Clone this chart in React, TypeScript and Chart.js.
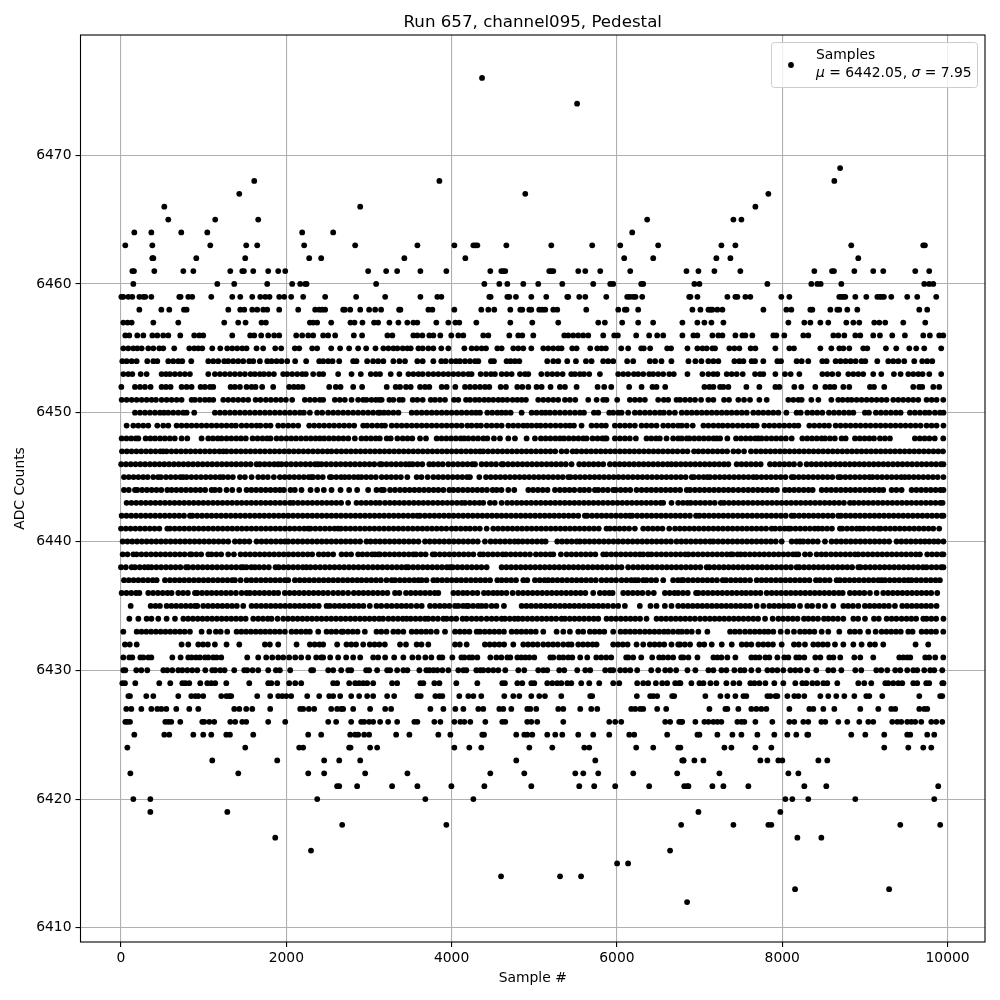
import React, { useEffect, useRef } from "react";
import { Chart, registerables } from "chart.js";

Chart.register(...registerables);

const titleText = "Run 657, channel095, Pedestal";
const xLabel = "Sample #";
const yLabel = "ADC Counts";
const xTickValues = [0, 2000, 4000, 6000, 8000, 10000];
const yTickValues = [6410, 6420, 6430, 6440, 6450, 6460, 6470];

const L6476 = [4368];
const L6474 = [5518];
const L6469 = [8700];
const L6468 = [1612, 3852, 8630];
const L6467 = [1431, 4891, 7832];
const L6466 = [524, 2894, 7675];
const L6465 = [572, 1140, 1660, 6366, 7409, 7506];
const L6464 = [161, 367, 729, 1044, 2192, 2567, 6185];
const L6463 = [52, 379, 1080, 1515, 1648, 2216, 2833, 3586, 4033, 4263, 4287, 4311, 4662, 5206, 5701, 6040, 6499, 7264, 7433, 8835, 9706, 9726];
const L6462 = [379, 391, 911, 1503, 2277, 2422, 3428, 4166, 6088, 6439, 7203, 7373, 8920];
const L6461 = [137, 157, 403, 754, 875, 1322, 1467, 1487, 1600, 1781, 1902, 1987, 2990, 3208, 3341, 3622, 3936, 4468, 4601, 4625, 4649, 5181, 5206, 5230, 5532, 5617, 5798, 6161, 6841, 6986, 7179, 7493, 8388, 8602, 8626, 8872, 9101, 9222, 9609, 9778];
const L6460 = [149, 1165, 1370, 1769, 2071, 2168, 2229, 2245, 3087, 4396, 4577, 4674, 4867, 5048, 5339, 5713, 5919, 5955, 6294, 6318, 6937, 6998, 7820, 8352, 8424, 8465, 8715, 9718, 9778, 9827];
const L6459 = [4, 28, 89, 137, 222, 270, 294, 367, 705, 721, 814, 862, 1092, 1346, 1443, 1588, 1685, 1745, 1797, 1914, 1975, 2059, 2204, 2470, 2845, 3196, 3622, 3827, 3876, 4456, 4472, 4674, 4698, 4778, 4964, 5145, 5399, 5411, 5544, 5617, 5871, 6124, 6157, 6197, 6225, 6306, 6874, 6889, 6974, 7336, 7433, 7457, 7554, 7614, 7989, 8086, 8690, 8715, 8739, 8763, 8884, 9017, 9150, 9182, 9206, 9230, 9319, 9512, 9633, 9863];
const L6458 = [222, 488, 584, 762, 794, 1298, 1443, 1491, 1588, 1648, 1721, 1769, 1914, 2144, 2349, 2398, 2434, 2470, 2688, 2708, 2773, 2894, 3002, 3075, 3147, 3365, 3380, 3719, 3767, 4033, 4359, 4444, 4516, 4710, 4831, 4855, 4940, 4964, 5060, 5097, 5133, 5230, 5278, 5629, 6016, 6096, 6116, 6257, 6913, 7010, 7107, 7131, 7155, 7215, 7276, 7772, 8050, 8110, 8340, 8364, 8582, 8666, 8690, 8787, 8908, 9658, 9754];
const L6457 = [28, 80, 129, 391, 693, 1249, 1418, 1507, 1700, 1753, 2285, 2325, 2373, 2543, 2776, 2825, 2921, 3062, 3111, 3247, 3356, 3464, 3537, 3585, 3815, 3960, 4045, 4093, 4299, 4710, 4976, 5290, 5774, 5854, 6064, 6257, 6438, 6792, 6973, 7058, 7143, 7288, 8074, 8267, 8340, 8461, 8557, 8775, 8860, 8932, 9113, 9174, 9246, 9464, 9730];
const L6456 = [52, 100, 197, 270, 379, 439, 511, 572, 717, 886, 947, 995, 1346, 1563, 1612, 1696, 1781, 1853, 1914, 2120, 2192, 2265, 2325, 2446, 2506, 2591, 2817, 2917, 3223, 3283, 3537, 3585, 3646, 3730, 3779, 3863, 3996, 4081, 4141, 4383, 4444, 4698, 4806, 4855, 4988, 5363, 5411, 5471, 5532, 5592, 5653, 5834, 5967, 6011, 6233, 6390, 6487, 6560, 6792, 6925, 6973, 7155, 7227, 7276, 7433, 7518, 7554, 7638, 7892, 7929, 8025, 8255, 8315, 8618, 8678, 8751, 8884, 8944, 9101, 9182, 9331, 9484, 9706, 9786, 9899, 9948];
const L6455 = [28, 88, 149, 197, 250, 330, 391, 463, 511, 644, 826, 886, 935, 983, 1104, 1201, 1285, 1346, 1406, 1467, 1519, 1640, 1720, 1866, 1938, 2103, 2156, 2313, 2373, 2543, 2651, 2760, 2869, 2966, 3079, 3174, 3235, 3295, 3344, 3408, 3464, 3505, 3598, 3650, 3718, 3779, 3875, 3960, 4154, 4242, 4303, 4363, 4416, 4553, 4605, 4746, 4806, 4867, 4964, 5109, 5169, 5230, 5290, 5330, 5459, 5512, 5677, 5762, 5814, 5866, 6052, 6136, 6293, 6325, 6402, 6608, 6655, 6853, 6973, 7034, 7086, 7155, 7187, 7360, 7421, 7481, 7618, 7675, 7917, 8086, 8142, 8461, 8594, 8690, 8739, 8811, 8980, 9029, 9254, 9379, 9537, 9621, 9718, 9923];
const L6454 = [16, 68, 129, 189, 318, 391, 439, 572, 632, 693, 741, 850, 1056, 1116, 1176, 1249, 1297, 1358, 1418, 1479, 1551, 1600, 1680, 1769, 1821, 1882, 1942, 2011, 2107, 2240, 2398, 2446, 2506, 2559, 2640, 2809, 2849, 2978, 3050, 3111, 3174, 3295, 3368, 3436, 3585, 3650, 3779, 3875, 3928, 3996, 4053, 4101, 4162, 4222, 4283, 4323, 4476, 4512, 4665, 4714, 4766, 4819, 5157, 5230, 5290, 5399, 5504, 5625, 5693, 5834, 5894, 5955, 6124, 6197, 6398, 6462, 6539, 6659, 6865, 6949, 7022, 7106, 7167, 7227, 7421, 7481, 7530, 7630, 7671, 7771, 7941, 7985, 8174, 8235, 8315, 8485, 8537, 8646, 8706, 8767, 8827, 8888, 8960, 9005, 9150, 9283, 9343, 9404, 9476, 9597, 9694, 9754, 9815];
const L6453 = [28, 88, 137, 238, 310, 491, 544, 592, 652, 713, 773, 834, 1056, 1136, 1197, 1257, 1318, 1378, 1439, 1499, 1567, 1620, 1680, 1729, 1789, 1850, 1962, 2011, 2071, 2132, 2192, 2236, 2325, 2398, 2446, 2627, 2789, 2901, 3022, 3083, 3134, 3263, 3368, 3477, 3537, 3598, 3650, 3718, 3779, 3839, 3900, 3960, 4021, 4081, 4141, 4202, 4242, 4351, 4416, 4476, 4524, 4605, 4665, 4726, 4827, 4887, 4928, 5085, 5157, 5218, 5278, 5343, 5447, 5492, 5552, 5601, 5665, 5794, 6015, 6076, 6136, 6205, 6257, 6318, 6390, 6438, 6499, 6560, 6633, 6688, 6853, 7034, 7106, 7167, 7215, 7328, 7388, 7449, 7522, 7671, 7731, 7771, 7917, 8033, 8102, 8207, 8485, 8545, 8605, 8678, 8799, 8860, 8920, 8980, 9101, 9198, 9351, 9432, 9525, 9585, 9646, 9698, 9779, 9923];
const L6452 = [4, 169, 230, 290, 358, 491, 544, 600, 733, 794, 854, 963, 1015, 1076, 1116, 1326, 1378, 1439, 1519, 1580, 1628, 1708, 1841, 2035, 2091, 2144, 2196, 2519, 2599, 2656, 2809, 2917, 3215, 3323, 3376, 3448, 3505, 3618, 3678, 3730, 3880, 3940, 4045, 4162, 4222, 4283, 4343, 4403, 4456, 4593, 4657, 4794, 4855, 4928, 5028, 5089, 5197, 5310, 5371, 5512, 5766, 5846, 5931, 6148, 6298, 6430, 6479, 6584, 7058, 7119, 7167, 7248, 7288, 7348, 7566, 7723, 7917, 7965, 8146, 8231, 8400, 8521, 8577, 8630, 8739, 8811, 9061, 9110, 9234, 9585, 9657, 9694, 9827, 9899];
const L6451 = [8, 68, 129, 189, 250, 310, 370, 423, 491, 552, 612, 673, 733, 854, 894, 955, 1015, 1068, 1116, 1237, 1297, 1358, 1418, 1479, 1539, 1628, 1688, 1753, 1813, 1874, 1934, 1995, 2071, 2224, 2285, 2345, 2406, 2446, 2587, 2647, 2708, 2789, 2869, 2930, 2970, 3030, 3083, 3123, 3154, 3247, 3295, 3368, 3408, 3529, 3585, 3650, 3747, 3799, 3859, 3920, 4029, 4081, 4174, 4222, 4283, 4335, 4395, 4448, 4504, 4565, 4617, 4673, 4738, 4794, 4847, 4899, 5048, 5109, 5169, 5230, 5290, 5371, 5431, 5496, 5653, 5754, 5834, 5874, 6003, 6156, 6217, 6277, 6338, 6499, 6567, 6620, 6721, 6764, 6824, 6885, 6945, 7018, 7106, 7167, 7296, 7356, 7469, 7538, 7610, 7723, 7812, 8074, 8134, 8195, 8235, 8352, 8437, 8594, 8678, 8731, 8791, 8839, 8900, 8960, 9021, 9081, 9142, 9202, 9262, 9343, 9404, 9464, 9525, 9585, 9646, 9746, 9807, 9867, 9948];
const L6450 = [169, 230, 290, 350, 411, 471, 520, 572, 632, 693, 753, 794, 886, 1136, 1197, 1257, 1318, 1378, 1439, 1499, 1559, 1620, 1680, 1741, 1801, 1862, 1922, 1983, 2043, 2103, 2164, 2212, 2285, 2373, 2434, 2506, 2567, 2627, 2688, 2748, 2809, 2869, 2930, 2990, 3050, 3111, 3134, 3182, 3235, 3295, 3356, 3517, 3577, 3638, 3698, 3759, 3819, 3880, 3940, 4000, 4061, 4121, 4182, 4242, 4295, 4343, 4432, 4492, 4553, 4605, 4657, 4714, 4847, 4968, 5028, 5089, 5137, 5190, 5250, 5310, 5371, 5431, 5492, 5552, 5601, 5722, 5774, 5907, 5955, 6015, 6056, 6136, 6217, 6277, 6338, 6398, 6459, 6519, 6567, 6633, 6701, 6784, 6845, 6905, 6965, 7026, 7086, 7147, 7207, 7268, 7328, 7388, 7449, 7510, 7570, 7650, 7711, 7771, 7832, 7892, 7953, 8050, 8174, 8223, 8303, 8364, 8424, 8485, 8565, 8626, 8686, 8747, 8807, 8860, 9000, 9049, 9133, 9194, 9254, 9315, 9375, 9432, 9545, 9605, 9666, 9727, 9779, 9847, 9908, 9950];
const L6449 = [68, 149, 209, 270, 330, 439, 511, 572, 673, 733, 794, 854, 914, 975, 1035, 1096, 1156, 1217, 1277, 1338, 1390, 1459, 1519, 1580, 1640, 1688, 1753, 1809, 1902, 1962, 2023, 2083, 2144, 2277, 2337, 2398, 2458, 2519, 2579, 2640, 2700, 2760, 2821, 2930, 2978, 3038, 3099, 3154, 3194, 3275, 3336, 3396, 3456, 3517, 3577, 3638, 3698, 3759, 3819, 3880, 3940, 4000, 4061, 4121, 4190, 4242, 4303, 4355, 4424, 4484, 4545, 4605, 4686, 4746, 4806, 4867, 4915, 4968, 5028, 5077, 5137, 5197, 5258, 5318, 5379, 5431, 5480, 5572, 5693, 5754, 5814, 5866, 5975, 6036, 6096, 6156, 6217, 6298, 6358, 6418, 6479, 6560, 6620, 6680, 6741, 6784, 6845, 6917, 7046, 7106, 7167, 7227, 7280, 7340, 7400, 7461, 7522, 7582, 7642, 7691, 7783, 7844, 7904, 7965, 8025, 8086, 8146, 8195, 8328, 8388, 8449, 8509, 8565, 8646, 8706, 8767, 8827, 8888, 8948, 9009, 9069, 9130, 9190, 9250, 9311, 9371, 9432, 9492, 9553, 9613, 9674, 9746, 9807, 9867, 9950];
const L6448 = [8, 66, 124, 180, 210, 298, 356, 412, 472, 530, 590, 650, 733, 802, 975, 1056, 1112, 1170, 1217, 1277, 1335, 1395, 1452, 1510, 1592, 1652, 1712, 1768, 1809, 1882, 1940, 2002, 2060, 2118, 2178, 2238, 2296, 2354, 2406, 2458, 2516, 2574, 2632, 2690, 2750, 2829, 2909, 2966, 3024, 3082, 3131, 3215, 3263, 3344, 3408, 3466, 3524, 3618, 3690, 3819, 3878, 3936, 3994, 4052, 4110, 4150, 4202, 4262, 4320, 4383, 4432, 4512, 4585, 4686, 4766, 4907, 5008, 5080, 5137, 5195, 5255, 5310, 5359, 5418, 5476, 5534, 5592, 5633, 5705, 5765, 5823, 5854, 5874, 5975, 6036, 6096, 6156, 6229, 6358, 6416, 6474, 6519, 6600, 6680, 6741, 6784, 6845, 6877, 6936, 6994, 7052, 7110, 7168, 7207, 7248, 7336, 7441, 7500, 7558, 7616, 7674, 7711, 7751, 7810, 7870, 7928, 7986, 8044, 8114, 8243, 8302, 8360, 8418, 8476, 8517, 8577, 8636, 8718, 8767, 8880, 8938, 8996, 9054, 9110, 9182, 9242, 9303, 9605, 9664, 9722, 9780, 9845, 9948];
const L6447 = [12, 70, 128, 186, 244, 302, 360, 418, 476, 511, 552, 610, 668, 726, 784, 842, 900, 958, 1016, 1074, 1132, 1190, 1237, 1277, 1335, 1393, 1451, 1509, 1567, 1625, 1683, 1741, 1801, 1859, 1917, 1975, 2033, 2091, 2149, 2207, 2265, 2323, 2381, 2439, 2497, 2547, 2608, 2666, 2724, 2782, 2840, 2898, 2956, 3014, 3072, 3130, 3188, 3246, 3304, 3362, 3420, 3478, 3536, 3594, 3652, 3710, 3768, 3826, 3884, 3942, 4000, 4058, 4116, 4174, 4232, 4290, 4343, 4383, 4441, 4499, 4557, 4615, 4673, 4731, 4789, 4847, 4905, 4963, 5021, 5079, 5137, 5195, 5253, 5330, 5391, 5464, 5512, 5572, 5630, 5688, 5746, 5804, 5862, 5920, 5978, 6036, 6094, 6152, 6210, 6268, 6326, 6384, 6442, 6500, 6558, 6616, 6674, 6732, 6796, 6853, 6933, 6985, 7043, 7101, 7159, 7217, 7275, 7333, 7409, 7469, 7538, 7622, 7683, 7741, 7799, 7857, 7915, 7973, 8031, 8089, 8147, 8205, 8263, 8321, 8379, 8437, 8495, 8553, 8611, 8669, 8727, 8785, 8843, 8901, 8959, 9017, 9075, 9133, 9191, 9249, 9307, 9365, 9423, 9481, 9539, 9597, 9655, 9713, 9771, 9829, 9887, 9945];
const L6446 = [2, 60, 118, 176, 234, 292, 350, 408, 466, 524, 582, 640, 698, 756, 814, 872, 930, 988, 1046, 1104, 1162, 1220, 1278, 1336, 1394, 1452, 1510, 1568, 1640, 1680, 1738, 1796, 1854, 1902, 1942, 2000, 2058, 2116, 2174, 2232, 2290, 2348, 2385, 2426, 2484, 2542, 2600, 2658, 2716, 2774, 2832, 2890, 2948, 3006, 3064, 3131, 3154, 3212, 3270, 3328, 3386, 3444, 3489, 3529, 3587, 3645, 3730, 3779, 3837, 3892, 3960, 4018, 4076, 4134, 4192, 4250, 4283, 4363, 4421, 4479, 4537, 4605, 4625, 4683, 4741, 4799, 4857, 4915, 4973, 5031, 5089, 5149, 5207, 5265, 5323, 5381, 5451, 5544, 5602, 5660, 5718, 5776, 5834, 5915, 5975, 6033, 6091, 6149, 6207, 6265, 6323, 6381, 6439, 6497, 6555, 6613, 6660, 6715, 6773, 6831, 6889, 6947, 7005, 7063, 7121, 7179, 7237, 7295, 7348, 7449, 7507, 7565, 7623, 7681, 7739, 7852, 7910, 7968, 8026, 8084, 8142, 8215, 8295, 8353, 8411, 8469, 8527, 8585, 8643, 8701, 8759, 8817, 8875, 8933, 8991, 9049, 9107, 9165, 9223, 9281, 9339, 9397, 9455, 9513, 9571, 9629, 9687, 9745, 9803, 9861, 9919, 9950];
const L6445 = [36, 94, 152, 210, 268, 322, 390, 448, 483, 544, 602, 660, 718, 753, 794, 852, 910, 968, 1026, 1084, 1142, 1197, 1237, 1295, 1353, 1439, 1499, 1580, 1660, 1718, 1776, 1849, 1922, 1980, 2038, 2096, 2154, 2212, 2270, 2305, 2325, 2383, 2441, 2527, 2547, 2605, 2663, 2708, 2760, 2818, 2869, 2909, 2967, 3025, 3083, 3154, 3212, 3270, 3328, 3386, 3464, 3577, 3635, 3710, 3779, 3839, 3897, 3955, 4013, 4071, 4129, 4187, 4222, 4335, 4416, 4474, 4532, 4590, 4648, 4706, 4764, 4822, 4880, 4938, 4996, 5054, 5112, 5170, 5228, 5286, 5344, 5411, 5439, 5497, 5555, 5613, 5671, 5729, 5787, 5845, 5903, 5961, 6019, 6077, 6135, 6193, 6251, 6309, 6367, 6425, 6483, 6541, 6599, 6657, 6715, 6773, 6831, 6905, 6933, 6991, 7049, 7094, 7127, 7185, 7243, 7301, 7359, 7417, 7475, 7533, 7591, 7649, 7691, 7749, 7807, 7865, 7923, 7981, 8039, 8114, 8142, 8200, 8258, 8316, 8374, 8432, 8490, 8548, 8606, 8678, 8706, 8764, 8822, 8880, 8938, 8996, 9054, 9093, 9150, 9208, 9266, 9324, 9382, 9440, 9484, 9533, 9591, 9649, 9707, 9765, 9823, 9881, 9950];
const L6444 = [36, 94, 169, 197, 255, 313, 371, 429, 487, 560, 612, 670, 728, 786, 844, 902, 960, 1018, 1096, 1136, 1194, 1277, 1346, 1430, 1519, 1577, 1635, 1693, 1751, 1809, 1867, 1922, 1970, 2051, 2103, 2184, 2293, 2373, 2454, 2547, 2656, 2760, 2857, 2990, 3091, 3150, 3180, 3255, 3315, 3376, 3434, 3492, 3550, 3608, 3666, 3724, 3782, 3839, 3900, 3972, 4021, 4079, 4137, 4195, 4253, 4311, 4369, 4427, 4496, 4545, 4603, 4686, 4758, 4928, 4986, 5044, 5102, 5160, 5250, 5310, 5368, 5426, 5484, 5552, 5604, 5662, 5733, 5774, 5832, 5890, 5955, 5987, 6045, 6103, 6161, 6237, 6298, 6358, 6416, 6474, 6532, 6590, 6648, 6706, 6764, 6845, 6885, 6943, 7001, 7059, 7117, 7175, 7233, 7291, 7349, 7407, 7469, 7530, 7588, 7646, 7704, 7762, 7820, 7878, 7936, 8033, 8086, 8144, 8202, 8260, 8318, 8368, 8477, 8535, 8593, 8651, 8709, 8767, 8825, 8883, 8941, 8999, 9057, 9115, 9173, 9222, 9323, 9381, 9444, 9565, 9623, 9681, 9739, 9797, 9855, 9913, 9950];
const L6443 = [68, 126, 184, 242, 300, 358, 416, 474, 532, 590, 648, 706, 764, 822, 880, 938, 996, 1054, 1112, 1170, 1228, 1286, 1344, 1402, 1460, 1518, 1576, 1634, 1692, 1750, 1808, 1866, 1924, 1982, 2043, 2083, 2141, 2199, 2257, 2315, 2373, 2431, 2489, 2547, 2605, 2663, 2748, 2849, 2907, 2965, 3023, 3081, 3131, 3194, 3252, 3310, 3368, 3426, 3484, 3542, 3600, 3658, 3716, 3774, 3832, 3890, 3948, 4006, 4064, 4121, 4162, 4220, 4278, 4336, 4383, 4464, 4522, 4605, 4673, 4731, 4789, 4847, 4905, 4963, 5021, 5079, 5137, 5195, 5253, 5311, 5369, 5427, 5485, 5543, 5601, 5659, 5717, 5775, 5833, 5891, 5949, 6007, 6065, 6123, 6181, 6239, 6297, 6355, 6413, 6471, 6529, 6560, 6660, 6741, 6799, 6853, 6893, 6951, 7009, 7067, 7125, 7183, 7256, 7296, 7354, 7412, 7470, 7528, 7586, 7644, 7702, 7760, 7818, 7876, 7934, 7992, 8050, 8108, 8166, 8224, 8282, 8340, 8398, 8456, 8514, 8572, 8630, 8688, 8746, 8819, 8868, 8926, 8984, 9042, 9100, 9158, 9216, 9274, 9332, 9390, 9448, 9506, 9564, 9622, 9680, 9738, 9796, 9854, 9912, 9940];
const L6442 = [8, 66, 124, 182, 240, 298, 356, 414, 472, 530, 588, 646, 704, 762, 834, 864, 922, 980, 1038, 1096, 1154, 1212, 1270, 1328, 1386, 1444, 1502, 1560, 1618, 1676, 1734, 1792, 1850, 1908, 1966, 2024, 2082, 2140, 2198, 2256, 2314, 2372, 2430, 2488, 2546, 2604, 2662, 2720, 2778, 2836, 2894, 2952, 3010, 3068, 3126, 3184, 3242, 3300, 3358, 3416, 3474, 3532, 3585, 3618, 3676, 3734, 3792, 3850, 3908, 3966, 4024, 4082, 4140, 4198, 4256, 4314, 4372, 4430, 4488, 4546, 4604, 4662, 4720, 4778, 4836, 4894, 4952, 5010, 5068, 5126, 5184, 5242, 5300, 5358, 5416, 5474, 5532, 5612, 5641, 5699, 5757, 5815, 5873, 5931, 5989, 6047, 6105, 6156, 6185, 6245, 6303, 6361, 6419, 6477, 6535, 6593, 6651, 6709, 6767, 6825, 6883, 6957, 6998, 7056, 7114, 7172, 7230, 7288, 7346, 7404, 7462, 7520, 7578, 7636, 7694, 7752, 7810, 7868, 7926, 7984, 8042, 8114, 8146, 8204, 8262, 8320, 8378, 8436, 8494, 8552, 8610, 8678, 8710, 8768, 8826, 8884, 8942, 9000, 9058, 9116, 9174, 9232, 9290, 9348, 9406, 9464, 9522, 9580, 9638, 9696, 9754, 9812, 9870, 9928, 9950];
const L6441 = [0, 58, 116, 174, 232, 290, 348, 406, 464, 560, 592, 650, 708, 766, 824, 882, 940, 998, 1056, 1114, 1172, 1230, 1288, 1346, 1404, 1462, 1520, 1578, 1636, 1694, 1752, 1810, 1868, 1926, 1984, 2042, 2100, 2158, 2216, 2265, 2293, 2351, 2409, 2467, 2525, 2583, 2627, 2660, 2718, 2776, 2834, 2892, 2950, 3008, 3066, 3124, 3182, 3240, 3298, 3356, 3414, 3472, 3530, 3588, 3646, 3704, 3762, 3820, 3878, 3936, 4000, 4053, 4111, 4169, 4222, 4283, 4341, 4424, 4504, 4562, 4620, 4678, 4736, 4794, 4852, 4910, 4968, 5026, 5084, 5142, 5200, 5258, 5316, 5374, 5432, 5490, 5548, 5606, 5664, 5722, 5780, 5874, 5915, 5973, 6031, 6089, 6147, 6217, 6318, 6376, 6434, 6492, 6550, 6633, 6703, 6761, 6819, 6877, 6935, 6993, 7051, 7109, 7167, 7225, 7283, 7341, 7399, 7457, 7515, 7573, 7631, 7689, 7747, 7805, 7872, 7913, 7971, 8029, 8074, 8102, 8160, 8218, 8276, 8334, 8392, 8436, 8485, 8543, 8601, 8698, 8726, 8784, 8842, 8900, 8940, 8988, 9046, 9104, 9162, 9190, 9248, 9306, 9364, 9422, 9480, 9538, 9596, 9654, 9712, 9770, 9827, 9899];
const L6440 = [20, 78, 136, 194, 252, 310, 368, 426, 484, 542, 600, 658, 716, 774, 832, 890, 948, 1006, 1064, 1122, 1180, 1238, 1297, 1378, 1436, 1494, 1552, 1640, 1700, 1758, 1816, 1874, 1932, 1983, 2023, 2081, 2139, 2197, 2255, 2313, 2371, 2429, 2487, 2545, 2603, 2661, 2719, 2777, 2835, 2893, 2970, 3020, 3078, 3134, 3192, 3250, 3308, 3366, 3424, 3482, 3540, 3598, 3678, 3736, 3794, 3852, 3910, 3968, 4026, 4084, 4142, 4200, 4258, 4316, 4403, 4472, 4530, 4588, 4646, 4704, 4762, 4806, 4859, 4917, 4975, 5033, 5091, 5137, 5278, 5336, 5394, 5452, 5512, 5552, 5610, 5668, 5726, 5784, 5842, 5900, 5958, 6016, 6074, 6132, 6190, 6248, 6306, 6364, 6422, 6480, 6538, 6596, 6654, 6721, 6779, 6837, 6895, 6953, 7011, 7069, 7127, 7167, 7225, 7283, 7341, 7399, 7457, 7515, 7573, 7631, 7689, 7747, 7805, 7863, 7921, 7993, 8114, 8172, 8215, 8255, 8313, 8371, 8429, 8517, 8597, 8655, 8713, 8771, 8829, 8887, 8945, 9003, 9061, 9119, 9177, 9235, 9293, 9383, 9441, 9499, 9557, 9615, 9673, 9726, 9779, 9835, 9887, 9950];
const L6439 = [20, 78, 149, 189, 247, 305, 363, 421, 479, 537, 595, 653, 711, 769, 834, 854, 912, 970, 1056, 1096, 1154, 1212, 1297, 1366, 1447, 1505, 1563, 1621, 1679, 1737, 1795, 1853, 1911, 1969, 2027, 2085, 2143, 2201, 2259, 2313, 2393, 2451, 2506, 2567, 2668, 2726, 2784, 2869, 2921, 2979, 3037, 3071, 3111, 3134, 3192, 3250, 3308, 3366, 3424, 3482, 3537, 3569, 3627, 3685, 3771, 3799, 3857, 3915, 3973, 4031, 4089, 4147, 4205, 4263, 4343, 4383, 4441, 4499, 4557, 4617, 4657, 4715, 4773, 4831, 4889, 4948, 5020, 5078, 5136, 5194, 5230, 5322, 5391, 5449, 5507, 5565, 5623, 5681, 5739, 5834, 5874, 5932, 5990, 6048, 6106, 6164, 6222, 6277, 6318, 6376, 6418, 6479, 6537, 6595, 6653, 6711, 6769, 6827, 6865, 6923, 6981, 7039, 7097, 7155, 7213, 7271, 7329, 7377, 7401, 7459, 7497, 7550, 7608, 7666, 7724, 7782, 7840, 7898, 7956, 8014, 8072, 8130, 8166, 8195, 8275, 8336, 8416, 8474, 8529, 8590, 8648, 8706, 8764, 8822, 8880, 8920, 8978, 9036, 9094, 9152, 9210, 9268, 9326, 9384, 9442, 9500, 9558, 9616, 9666, 9754, 9812, 9870, 9928, 9950];
const L6438 = [0, 58, 129, 169, 227, 285, 330, 370, 428, 486, 544, 602, 660, 718, 786, 814, 872, 930, 988, 1046, 1104, 1162, 1220, 1278, 1336, 1394, 1452, 1479, 1519, 1577, 1620, 1672, 1730, 1788, 1870, 1910, 1968, 2026, 2084, 2142, 2200, 2244, 2293, 2351, 2409, 2467, 2525, 2583, 2641, 2699, 2757, 2815, 2873, 2931, 2989, 3047, 3105, 3163, 3221, 3279, 3337, 3395, 3448, 3477, 3535, 3593, 3651, 3709, 3767, 3825, 3883, 3941, 3980, 4013, 4071, 4129, 4187, 4245, 4303, 4361, 4424, 4605, 4663, 4721, 4779, 4837, 4895, 4953, 5011, 5069, 5127, 5185, 5243, 5301, 5359, 5417, 5475, 5533, 5591, 5649, 5707, 5765, 5823, 5881, 5939, 5997, 6055, 6136, 6197, 6255, 6313, 6371, 6429, 6487, 6545, 6603, 6661, 6719, 6777, 6835, 6893, 6951, 7009, 7086, 7119, 7177, 7235, 7293, 7351, 7409, 7467, 7525, 7583, 7641, 7699, 7757, 7815, 7873, 7931, 7989, 8047, 8105, 8174, 8207, 8265, 8323, 8381, 8439, 8497, 8555, 8613, 8671, 8729, 8787, 8845, 8920, 8948, 9006, 9064, 9122, 9180, 9238, 9296, 9354, 9412, 9470, 9528, 9586, 9644, 9702, 9746, 9807, 9865, 9923, 9950];
const L6437 = [36, 94, 152, 210, 268, 326, 384, 431, 532, 592, 650, 708, 766, 824, 882, 940, 998, 1056, 1114, 1172, 1230, 1288, 1346, 1378, 1447, 1519, 1577, 1635, 1693, 1751, 1809, 1867, 1925, 1983, 2023, 2104, 2162, 2220, 2278, 2336, 2394, 2452, 2510, 2568, 2626, 2684, 2742, 2800, 2858, 2910, 2970, 3028, 3086, 3144, 3212, 3275, 3315, 3373, 3431, 3489, 3547, 3598, 3638, 3696, 3779, 3827, 3885, 3943, 4001, 4059, 4117, 4175, 4233, 4291, 4349, 4407, 4465, 4553, 4605, 4663, 4721, 4779, 4867, 4915, 5008, 5066, 5124, 5169, 5222, 5280, 5338, 5396, 5454, 5512, 5570, 5628, 5686, 5744, 5814, 5874, 5932, 5990, 6056, 6116, 6174, 6217, 6257, 6318, 6358, 6416, 6474, 6560, 6680, 6738, 6784, 6804, 6862, 6920, 6978, 7036, 7094, 7152, 7210, 7280, 7320, 7378, 7436, 7494, 7550, 7610, 7691, 7749, 7807, 7865, 7923, 7981, 8039, 8097, 8155, 8213, 8271, 8329, 8408, 8457, 8515, 8573, 8658, 8698, 8756, 8814, 8872, 8930, 8988, 9046, 9104, 9162, 9202, 9242, 9300, 9358, 9416, 9474, 9525, 9565, 9623, 9681, 9739, 9797, 9855, 9907];
const L6436 = [8, 66, 124, 182, 222, 330, 388, 446, 504, 562, 612, 693, 751, 809, 895, 923, 981, 1039, 1097, 1155, 1213, 1271, 1329, 1390, 1459, 1519, 1560, 1618, 1676, 1734, 1792, 1850, 1902, 1982, 2040, 2098, 2156, 2214, 2272, 2330, 2388, 2446, 2504, 2567, 2627, 2685, 2748, 2817, 2875, 2933, 2991, 3049, 3107, 3165, 3223, 3315, 3368, 3448, 3506, 3564, 3622, 3680, 3738, 3796, 3839, 4021, 4079, 4137, 4190, 4254, 4312, 4391, 4444, 4502, 4553, 4605, 4663, 4738, 4806, 4864, 4922, 4980, 5038, 5096, 5154, 5212, 5270, 5328, 5386, 5444, 5502, 5560, 5618, 5713, 5794, 5852, 5907, 5947, 6076, 6134, 6192, 6250, 6308, 6378, 6446, 6580, 6638, 6696, 6741, 6799, 6857, 6957, 6985, 7043, 7101, 7159, 7217, 7275, 7333, 7391, 7449, 7509, 7562, 7620, 7678, 7736, 7812, 7872, 7930, 7988, 8046, 8104, 8162, 8220, 8278, 8336, 8394, 8452, 8510, 8568, 8626, 8684, 8731, 8819, 8877, 8935, 8993, 9061, 9142, 9222, 9280, 9338, 9396, 9454, 9512, 9570, 9628, 9686, 9744, 9802, 9875];
const L6435 = [117, 359, 417, 471, 552, 610, 668, 726, 784, 842, 895, 923, 995, 1053, 1111, 1169, 1227, 1285, 1343, 1401, 1479, 1580, 1638, 1696, 1754, 1812, 1870, 1928, 1986, 2044, 2102, 2160, 2218, 2276, 2334, 2392, 2487, 2527, 2585, 2643, 2701, 2759, 2817, 2875, 2933, 3010, 3091, 3149, 3215, 3275, 3336, 3394, 3452, 3510, 3577, 3638, 3739, 3799, 3857, 3915, 3973, 4041, 4081, 4139, 4182, 4202, 4260, 4318, 4363, 4416, 4484, 4542, 4633, 4847, 4905, 4963, 5021, 5079, 5137, 5195, 5253, 5311, 5369, 5427, 5485, 5543, 5601, 5659, 5717, 5775, 5833, 5891, 5955, 6015, 6096, 6277, 6406, 6479, 6580, 6660, 6741, 6801, 6859, 6917, 6975, 7033, 7091, 7149, 7207, 7265, 7323, 7381, 7439, 7497, 7555, 7610, 7691, 7771, 7844, 7902, 7960, 8018, 8076, 8134, 8215, 8303, 8361, 8437, 8517, 8618, 8739, 8797, 8855, 8920, 9000, 9058, 9116, 9174, 9232, 9290, 9363, 9452, 9510, 9568, 9626, 9684, 9742, 9800, 9867];
const L6434 = [101, 210, 310, 368, 451, 552, 653, 754, 812, 870, 928, 986, 1044, 1102, 1160, 1218, 1276, 1334, 1392, 1450, 1508, 1600, 1660, 1718, 1776, 1821, 1894, 1963, 2021, 2079, 2137, 2195, 2253, 2311, 2369, 2427, 2485, 2543, 2601, 2659, 2717, 2775, 2833, 2891, 2949, 3007, 3065, 3123, 3171, 3235, 3293, 3351, 3409, 3456, 3505, 3563, 3621, 3678, 3718, 3776, 3834, 3900, 3940, 3998, 4056, 4133, 4182, 4242, 4300, 4358, 4424, 4484, 4542, 4605, 4645, 4703, 4761, 4806, 4859, 4917, 4975, 5033, 5091, 5149, 5207, 5265, 5330, 5371, 5429, 5487, 5545, 5603, 5661, 5719, 5774, 5874, 5932, 5990, 6048, 6106, 6164, 6222, 6280, 6358, 6479, 6537, 6595, 6653, 6711, 6769, 6827, 6885, 6943, 7006, 7066, 7124, 7182, 7240, 7298, 7356, 7414, 7472, 7530, 7590, 7650, 7708, 7792, 7884, 7953, 8011, 8069, 8127, 8185, 8263, 8316, 8374, 8432, 8505, 8557, 8615, 8673, 8739, 8860, 8918, 9001, 9110, 9168, 9263, 9323, 9381, 9444, 9504, 9562, 9620, 9706, 9746, 9804, 9862, 9950];
const L6433 = [28, 190, 248, 306, 364, 422, 480, 538, 596, 654, 712, 770, 834, 975, 1068, 1148, 1206, 1285, 1398, 1456, 1514, 1572, 1630, 1688, 1746, 1804, 1862, 1920, 1983, 2063, 2121, 2179, 2237, 2285, 2386, 2487, 2545, 2603, 2668, 2688, 2746, 2804, 2862, 2950, 3091, 3149, 3212, 3295, 3353, 3416, 3517, 3575, 3633, 3691, 3749, 3819, 3920, 4041, 4099, 4157, 4215, 4303, 4343, 4401, 4459, 4517, 4575, 4633, 4726, 4786, 4844, 4902, 4960, 5018, 5109, 5270, 5351, 5431, 5532, 5592, 5673, 5731, 5789, 5847, 5955, 6044, 6102, 6160, 6218, 6277, 6338, 6396, 6454, 6512, 6570, 6620, 6680, 6741, 6786, 6845, 6905, 6985, 7094, 7369, 7427, 7485, 7550, 7610, 7668, 7726, 7784, 7832, 7892, 7981, 8062, 8142, 8215, 8273, 8331, 8389, 8477, 8557, 8690, 8819, 8877, 8940, 9041, 9130, 9202, 9260, 9318, 9376, 9434, 9525, 9577, 9686, 9744, 9802, 9860, 9948];
const L6432 = [48, 106, 190, 733, 814, 935, 993, 1051, 1136, 1277, 1431, 1741, 1801, 1902, 2124, 2285, 2343, 2401, 2446, 2615, 2728, 2786, 2844, 2930, 3010, 3068, 3126, 3192, 3376, 3448, 3577, 3635, 3718, 4041, 4099, 4182, 4403, 4461, 4519, 4577, 4635, 4746, 4867, 4925, 4983, 5041, 5109, 5169, 5227, 5285, 5351, 5411, 5451, 5532, 5590, 5648, 5706, 5754, 5955, 6013, 6071, 6129, 6237, 6318, 6398, 6456, 6514, 6572, 6660, 6741, 6764, 6822, 6885, 6998, 7056, 7147, 7268, 7389, 7510, 7568, 7626, 7711, 7771, 7829, 7887, 7993, 8142, 8200, 8275, 8376, 8434, 8492, 8550, 8638, 8739, 8860, 8960, 9061, 9122, 9222, 9613, 9766];
const L6431 = [28, 101, 137, 234, 270, 330, 367, 621, 721, 814, 854, 907, 955, 1016, 1056, 1116, 1157, 1213, 1527, 1660, 1757, 1830, 1902, 1963, 2035, 2108, 2180, 2265, 2362, 2422, 2446, 2531, 2627, 2724, 2809, 2894, 3051, 3111, 3196, 3305, 3416, 3525, 3598, 3682, 3755, 3852, 3888, 4009, 4118, 4154, 4214, 4250, 4311, 4468, 4541, 4601, 4674, 4710, 4795, 4843, 4891, 4940, 5000, 5194, 5230, 5302, 5351, 5411, 5460, 5556, 5641, 5750, 5810, 5871, 5931, 6112, 6137, 6197, 6294, 6427, 6511, 6560, 6620, 6681, 6777, 6804, 6865, 6974, 7167, 7215, 7264, 7336, 7433, 7626, 7675, 7723, 7796, 7844, 7941, 8025, 8074, 8170, 8207, 8267, 8400, 8461, 8569, 8618, 8702, 8872, 8944, 9101, 9416, 9464, 9512, 9549, 9730, 9778, 9851, 9948];
const L6430 = [28, 52, 185, 246, 318, 512, 560, 621, 693, 742, 802, 862, 923, 1020, 1104, 1140, 1201, 1253, 1370, 1491, 1527, 1592, 1660, 1781, 1874, 1922, 2047, 2301, 2325, 2507, 2567, 2664, 2749, 2785, 2966, 3002, 3099, 3220, 3256, 3341, 3416, 3465, 3610, 3694, 3731, 3779, 3827, 3888, 3960, 4081, 4142, 4178, 4299, 4347, 4383, 4444, 4504, 4565, 4649, 4807, 4879, 5048, 5109, 5157, 5302, 5363, 5520, 5617, 5677, 5858, 5919, 5955, 6040, 6100, 6161, 6245, 6415, 6499, 6584, 6644, 6717, 6853, 6949, 7107, 7167, 7264, 7324, 7421, 7493, 7542, 7626, 7711, 7820, 7880, 7941, 8013, 8098, 8158, 8219, 8303, 8412, 8557, 8618, 8715, 8884, 8956, 9138, 9198, 9271, 9367, 9428, 9512, 9585, 9633, 9718, 9790, 9839, 9936];
const L6429 = [16, 48, 173, 463, 596, 742, 778, 826, 959, 1044, 1092, 1140, 1274, 1552, 1781, 1818, 1890, 2035, 2108, 2180, 2567, 2615, 2761, 2833, 2881, 2930, 2978, 3051, 3280, 3341, 3622, 3658, 3791, 3852, 4057, 4311, 4613, 4645, 4795, 4855, 4964, 5000, 5157, 5218, 5278, 5327, 5399, 5448, 5568, 5665, 5786, 5955, 6028, 6245, 6318, 6378, 6471, 6548, 6608, 6705, 6753, 6768, 6901, 6998, 7046, 7131, 7203, 7324, 7409, 7481, 7614, 7663, 7723, 7796, 7904, 8013, 8158, 8243, 8291, 8364, 8424, 8497, 8545, 8666, 8920, 8992, 9077, 9247, 9283, 9343, 9404, 9452, 9585, 9633, 9742, 9778, 9936, 9950];
const L6428 = [89, 109, 306, 391, 693, 850, 899, 935, 995, 1213, 1274, 1310, 1334, 1648, 1805, 1902, 1951, 2000, 2059, 2253, 2398, 2519, 2567, 2652, 2785, 2881, 2978, 3051, 3220, 3305, 3586, 3626, 3803, 3852, 3888, 4093, 4202, 4263, 4359, 4637, 4746, 4819, 4964, 5060, 5129, 5327, 5677, 5701, 6241, 6402, 6439, 6487, 6668, 6693, 7070, 7252, 7336, 7433, 7530, 7566, 7820, 7856, 7917, 7941, 8062, 8146, 8195, 8267, 8461, 8557, 8654, 8751, 8872, 9017, 9053, 9210, 9658, 9911, 9936];
const L6427 = [64, 125, 246, 367, 439, 488, 548, 669, 826, 935, 1370, 1431, 1515, 1588, 1805, 2168, 2204, 2273, 2337, 2543, 2615, 2664, 2688, 2809, 3014, 3196, 3268, 3743, 3900, 4045, 4142, 4323, 4383, 4577, 4625, 4722, 4915, 4952, 5024, 5290, 5351, 5556, 5689, 5762, 6173, 6221, 6282, 6318, 6487, 6596, 7119, 7312, 7336, 7469, 7626, 7687, 7747, 7808, 8086, 8328, 8376, 8497, 8630, 8944, 9162, 9319, 9367, 9658, 9718, 9754];
const L6426 = [52, 77, 109, 536, 572, 608, 717, 983, 1007, 1068, 1128, 1322, 1382, 1467, 1515, 1781, 1987, 2507, 2603, 2785, 2906, 2942, 3002, 3051, 3135, 3232, 3341, 3549, 3586, 3791, 3864, 4033, 4105, 4154, 4226, 4408, 4613, 4649, 4915, 4964, 5036, 5351, 5907, 5979, 6052, 6584, 6644, 6753, 6790, 6780, 6949, 7058, 7107, 7167, 7215, 7264, 7457, 7506, 7542, 7675, 7880, 8086, 8146, 8255, 8315, 8473, 8521, 8678, 8787, 8932, 9041, 9101, 9331, 9392, 9440, 9512, 9561, 9609, 9682, 9803, 9863, 9936];
const L6425 = [161, 524, 584, 875, 995, 1092, 1274, 1318, 1600, 2265, 2422, 2773, 2833, 2869, 2942, 3002, 3329, 3489, 3839, 3985, 4371, 4392, 4782, 4879, 4915, 4976, 5157, 5254, 5339, 5532, 5713, 5907, 6149, 6209, 6608, 6974, 6998, 7215, 7397, 7506, 7699, 7904, 8062, 8170, 8303, 8315, 8835, 9005, 9234, 9512, 9549, 9754, 9839];
const L6424 = [77, 1503, 2156, 2204, 2760, 2777, 3014, 3099, 4033, 4214, 4359, 4940, 5218, 5605, 5665, 6233, 6439, 6741, 6768, 7300, 7385, 7675, 7868, 9234, 9525, 9706, 9803];
const L6423 = [1104, 1890, 2458, 2640, 2894, 4782, 5738, 6790, 6806, 6804, 6937, 7046, 7735, 7820, 7953, 8001, 8437, 8545];
const L6422 = [113, 1419, 2265, 2458, 2954, 3465, 4468, 4879, 5496, 5593, 5774, 6197, 6729, 7240, 8074, 8195];
const L6421 = [2615, 2640, 2857, 3280, 3586, 3997, 4396, 4964, 5544, 5725, 5979, 6390, 6814, 6850, 6865, 7155, 7288, 7590, 8267, 8533, 9887];
const L6420 = [149, 355, 2374, 3682, 4263, 8038, 8122, 8315, 8884, 9839];
const L6419 = [355, 1286, 6986, 7977];
const L6418 = [2676, 3936, 6777, 7409, 7832, 7868, 9428, 9911];
const L6417 = [1866, 8183, 8473];
const L6416 = [2299, 6643];
const L6415 = [6002, 6135];
const L6414 = [4598, 5312, 5566];
const L6413 = [8155, 9293];
const L6412 = [6849];

const adcLevels = [6476, 6474, 6469, 6468, 6467, 6466, 6465, 6464, 6463, 6462, 6461, 6460, 6459, 6458, 6457, 6456, 6455, 6454, 6453, 6452, 6451, 6450, 6449, 6448, 6447, 6446, 6445, 6444, 6443, 6442, 6441, 6440, 6439, 6438, 6437, 6436, 6435, 6434, 6433, 6432, 6431, 6430, 6429, 6428, 6427, 6426, 6425, 6424, 6423, 6422, 6421, 6420, 6419, 6418, 6417, 6416, 6415, 6414, 6413, 6412];
const samplesByLevel = [L6476, L6474, L6469, L6468, L6467, L6466, L6465, L6464, L6463, L6462, L6461, L6460, L6459, L6458, L6457, L6456, L6455, L6454, L6453, L6452, L6451, L6450, L6449, L6448, L6447, L6446, L6445, L6444, L6443, L6442, L6441, L6440, L6439, L6438, L6437, L6436, L6435, L6434, L6433, L6432, L6431, L6430, L6429, L6428, L6427, L6426, L6425, L6424, L6423, L6422, L6421, L6420, L6419, L6418, L6417, L6416, L6415, L6414, L6413, L6412];

const FONT = '"DejaVu Sans"';

const framePlugin = {
  id: "frameAndLegend",
  afterDraw(chart: any) {
    const { ctx, chartArea: a } = chart;
    ctx.save();
    ctx.strokeStyle = "#000";
    ctx.lineWidth = 1.1;
    ctx.strokeRect(a.left, a.top, a.right - a.left, a.bottom - a.top);

    const bx = 771.5, by = 42.5, bw = 206, bh = 45;
    ctx.beginPath();
    ctx.roundRect(bx, by, bw, bh, 3);
    ctx.fillStyle = "rgba(255,255,255,0.8)";
    ctx.fill();
    ctx.strokeStyle = "#ccc";
    ctx.lineWidth = 1;
    ctx.stroke();

    ctx.fillStyle = "#000";
    ctx.beginPath();
    ctx.arc(791, 65, 2.9, 0, Math.PI * 2);
    ctx.fill();

    ctx.textAlign = "left";
    ctx.textBaseline = "alphabetic";
    const reg = `13.89px ${FONT}`;
    const ital = `italic 13.89px ${FONT}`;
    ctx.font = reg;
    ctx.fillText("Samples", 816, 59);
    let x = 816;
    const parts: [string, string][] = [["μ", ital], [" = 6442.05, ", reg], ["σ", ital], [" = 7.95", reg]];
    for (const [t, f] of parts) {
      ctx.font = f;
      ctx.fillText(t, x, 76.5);
      x += ctx.measureText(t).width;
    }
    ctx.restore();
  },
};

export default function App() {
  const ref = useRef<HTMLCanvasElement>(null);
  useEffect(() => {
    document.body.style.margin = "0";
    const points: { x: number; y: number }[] = [];
    adcLevels.forEach((lvl, i) => {
      samplesByLevel[i].forEach((s) => points.push({ x: s, y: lvl }));
    });
    const chart = new Chart(ref.current!, {
      type: "scatter",
      data: {
        datasets: [
          {
            label: "Samples",
            data: points,
            backgroundColor: "#000",
            borderColor: "#000",
            borderWidth: 0,
            pointRadius: 2.9,
            pointHoverRadius: 2.9,
            showLine: false,
          },
        ],
      },
      options: {
        responsive: false,
        animation: false,
        events: [],
        layout: { padding: { top: 0, right: 15, bottom: 0, left: 0 } },
        plugins: {
          legend: { display: false },
          tooltip: { enabled: false },
          title: {
            display: true,
            text: titleText,
            color: "#000",
            fullSize: false,
            font: { family: FONT, size: 16.67, weight: "normal", lineHeight: 1.2 },
            padding: { top: 13, bottom: 2 },
          },
        },
        scales: {
          x: {
            type: "linear",
            min: -490,
            max: 10453,
            afterFit: (s: any) => { s.height = 58; },
            afterBuildTicks: (s: any) => { s.ticks = xTickValues.map((v) => ({ value: v })); },
            grid: { color: "#b0b0b0", lineWidth: 1.1, tickColor: "#000", tickLength: 5, tickWidth: 1.1 },
            border: { display: false },
            ticks: { color: "#000", font: { family: FONT, size: 13.89 }, padding: 3, maxRotation: 0, callback: (v: any) => String(v) },
            title: { display: true, text: xLabel, color: "#000", font: { family: FONT, size: 13.89 }, padding: { top: 0, bottom: 13 } },
          },
          y: {
            type: "linear",
            min: 6408.9,
            max: 6479.33,
            afterFit: (s: any) => { s.width = 80.5; },
            afterBuildTicks: (s: any) => { s.ticks = yTickValues.map((v) => ({ value: v })); },
            grid: { color: "#b0b0b0", lineWidth: 1.1, tickColor: "#000", tickLength: 5, tickWidth: 1.1 },
            border: { display: false },
            ticks: { color: "#000", font: { family: FONT, size: 13.89 }, padding: 4, callback: (v: any) => String(v) },
            title: { display: true, text: yLabel, color: "#000", font: { family: FONT, size: 13.89 }, padding: { top: 12, bottom: 0 } },
          },
        },
      },
      plugins: [framePlugin],
    } as any);
    return () => chart.destroy();
  }, []);
  return <canvas ref={ref} width={1000} height={1000} style={{ display: "block" }} />;
}
